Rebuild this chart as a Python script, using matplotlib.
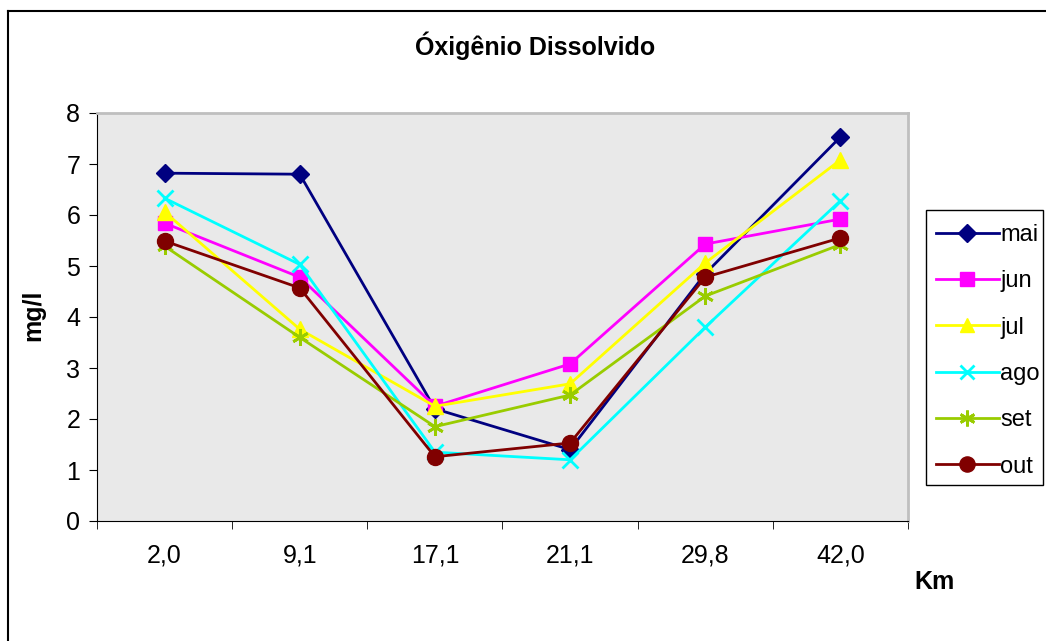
import matplotlib
matplotlib.use("Agg")
import matplotlib.pyplot as plt
from matplotlib.lines import Line2D
from matplotlib.patches import Rectangle

plt.rcParams['font.family'] = ['Liberation Sans', 'DejaVu Sans']

km = ["2,0", "9,1", "17,1", "21,1", "29,8", "42,0"]

mai = [6.82, 6.80, 2.20, 1.40, 4.85, 7.53]
jun = [5.84, 4.78, 2.25, 3.08, 5.43, 5.92]
jul = [6.06, 3.76, 2.25, 2.69, 5.06, 7.08]
ago = [6.33, 5.03, 1.35, 1.20, 3.80, 6.28]
set_ = [5.39, 3.60, 1.85, 2.47, 4.41, 5.42]
out = [5.49, 4.57, 1.26, 1.53, 4.78, 5.55]

series = [
    ("mai", mai, "#000080", "D", 9.5),
    ("jun", jun, "#FF00FF", "s", 10),
    ("jul", jul, "#FFFF00", "^", 11),
    ("ago", ago, "#00FFFF", "x", 11),
    ("set", set_, "#99CC00", (6, 2, 0), 12),
    ("out", out, "#800000", "o", 11.5),
]

fs = 18

fig = plt.figure(figsize=(10.46, 6.41), dpi=100)
ax = fig.add_axes([97 / 1046, 1 - 521 / 641, 811 / 1046, 408 / 641])
ax.set_facecolor("#e9e9e9")

x = list(range(len(km)))
for name, vals, col, mk, ms in series:
    ax.plot(x, vals, color=col, marker=mk, markersize=ms, linewidth=2,
            markeredgewidth=2 if mk in ("x", (6, 2, 0)) else 1,
            markeredgecolor=col, markerfacecolor=col, label=name)

ax.set_xlim(-0.5, len(km) - 0.5)
ax.set_ylim(0, 8)
ax.set_yticks(range(0, 9))
ax.set_xticks(x)
ax.set_xticklabels(km, fontsize=fs)
ax.set_xticks([i + 0.5 for i in range(-1, len(km))], minor=True)
ax.tick_params(axis='x', which='major', length=0, pad=16)
ax.tick_params(axis='x', which='minor', length=6, direction='out', color='black')
ax.tick_params(axis='y', labelsize=fs, length=6, direction='out', pad=6)

for s in ["top", "right"]:
    ax.spines[s].set_color("#bfbfbf")
    ax.spines[s].set_linewidth(2)
ax.spines["left"].set_color("black")
ax.spines["bottom"].set_color("black")

fig.text(535 / 1046, 1 - 46 / 641, "Óxigênio Dissolvido", ha="center", va="center",
         fontsize=fs, fontweight="bold")
fig.text(33 / 1046, 1 - 315 / 641, "mg/l", ha="center", va="center",
         rotation=90, fontsize=fs, fontweight="bold")
fig.text(935 / 1046, 1 - 582 / 641, "Km", ha="center", va="center",
         fontsize=fs, fontweight="bold")

# legend frame drawn separately so padding matches the original
fig.add_artist(Rectangle((926 / 1046, 1 - 485 / 641), 117 / 1046, 275 / 641,
                         transform=fig.transFigure, facecolor="white",
                         edgecolor="black", linewidth=1))

handles = [Line2D([], [], color=c, marker=m, markersize=ms * 0.95, linewidth=2,
                  markeredgewidth=2 if m in ("x", (6, 2, 0)) else 1,
                  markeredgecolor=c, markerfacecolor=c)
           for _, _, c, m, ms in series]
leg = fig.legend(handles, [s[0] for s in series], loc="upper left",
                 bbox_to_anchor=(936 / 1046, 1 - 224 / 641),
                 fontsize=17, frameon=False, handlelength=2.65,
                 handletextpad=0.08, labelspacing=1.03, borderpad=0,
                 borderaxespad=0)

# outer chart border
fig.add_artist(Line2D([8 / 1046, 8 / 1046], [0, 1 - 11 / 641], color="black", lw=1.5))
fig.add_artist(Line2D([8 / 1046, 1], [1 - 11 / 641, 1 - 11 / 641], color="black", lw=1.5))

fig.savefig("out.png", dpi=100)
